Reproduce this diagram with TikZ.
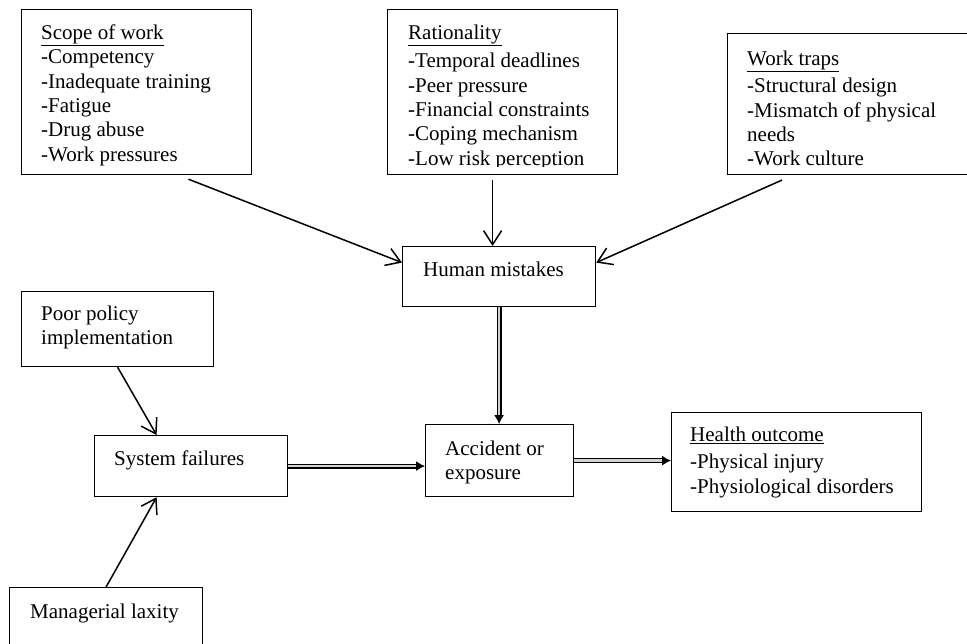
\documentclass[tikz,border=0pt]{standalone}
\usepackage{fontspec}
\setmainfont{Liberation Serif}
\usetikzlibrary{arrows.meta,calc}
\tikzset{
    box/.style={draw, line width=1.2pt, anchor=north west, inner sep=0pt},
    txt/.style={anchor=north west, align=left, inner sep=0pt, font=\fontsize{21}{24.4}\selectfont},
    arr/.style={line width=1.5pt, -{Straight Barb[length=14pt,width=18pt]}},
    dbl/.style={double=gray!35, double distance=2.6pt, line width=1.1pt, -{Latex[length=9pt,width=10pt]}}
}
\begin{document}
\begin{tikzpicture}[x=1pt,y=-1pt]
        \useasboundingbox (0,0) rectangle (967,643);
        \clip (0,0) rectangle (967,643);
        \node[box, minimum width=230pt, minimum height=165pt] (scope) at (21,9) {};
        \node[txt] (scopetxt) at (41,22) {\strut\underline{Scope of work}\\-Competency\\-Inadequate training\\-Fatigue\\-Drug abuse\\-Work pressures};
        \node[box, minimum width=230pt, minimum height=165pt] (rat) at (387,9) {};
        \begin{scope}
            \clip (rat.north west) rectangle ([yshift=9pt]rat.south east);
            \node[txt] (rattxt) at (408,22) {\strut\underline{Rationality}\\[4pt]-Temporal deadlines\\-Peer pressure\\-Financial constraints\\-Coping mechanism\\-Low risk perception};
        \end{scope}
        \node[box, minimum width=260pt, minimum height=141pt] (traps) at (727,33) {};
        \begin{scope}
            \clip (traps.north west) rectangle ([yshift=9pt]traps.south east);
            \node[txt] (trapstxt) at (747,48) {\strut\underline{Work traps}\\[3pt]-Structural design\\-Mismatch of physical\\needs\\-Work culture};
        \end{scope}
        \node[box, minimum width=193pt, minimum height=60pt] (human) at (402,246) {};
        \node[txt] (humantxt) at (423,259) {\strut Human mistakes};
        \node[box, minimum width=192pt, minimum height=75pt] (poor) at (21,291) {};
        \node[txt] (poortxt) at (41,303) {\strut Poor policy\\implementation};
        \node[box, minimum width=193pt, minimum height=61pt] (system) at (94,435) {};
        \node[txt] (systemtxt) at (114,448) {\strut System failures};
        \node[box, minimum width=193pt, minimum height=70pt] (managerial) at (9,587) {};
        \node[txt] (managerialtxt) at (30,601) {\strut Managerial laxity};
        \node[box, minimum width=148pt, minimum height=72pt] (accident) at (425,424) {};
        \node[txt] (accidenttxt) at (445,438) {\strut Accident or\\exposure};
        \node[box, minimum width=250pt, minimum height=99pt] (health) at (671,412) {};
        \node[txt] (healthtxt) at (690,424) {\strut\underline{Health outcome}\\[3pt]-Physical injury\\-Physiological disorders};
        \coordinate (hmtop) at ([xshift=-6.5pt]human.north);
        \draw[arr, shorten <=11pt] ($(scope.south west)!0.68!(scope.south east)$) -- ([yshift=14pt]human.west);
        \draw[arr, shorten <=5pt] (rat.south -| hmtop) -- (hmtop);
        \draw[arr, shorten <=12pt] ([xshift=66pt]traps.south west) -- ([yshift=14pt]human.east);
        \draw[arr] (poor.south) -- ([xshift=-34.5pt]system.north);
        \draw[arr] (managerial.north) -- ([xshift=-34.5pt]system.south);
        \draw[dbl] (human.south) -- (human.south |- accident.north);
        \draw[dbl] (system.east) -- (system.east -| accident.west);
        \draw[dbl] (accident.east) -- (accident.east -| health.west);
    \end{tikzpicture}
\end{document}
